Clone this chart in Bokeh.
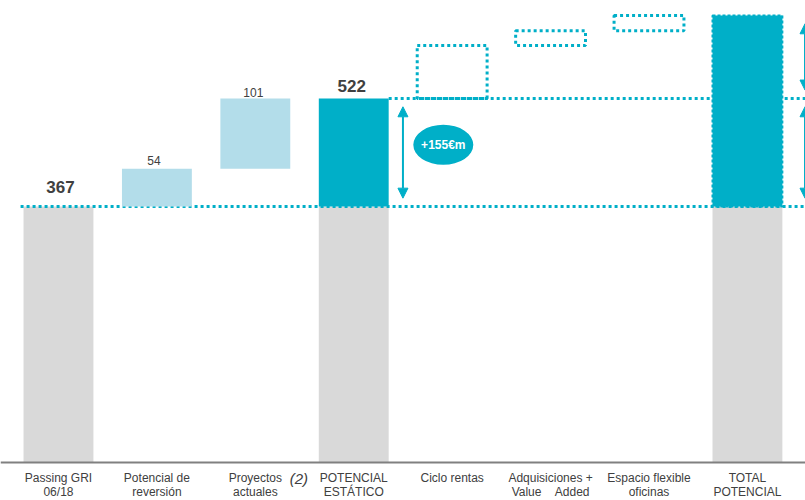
from bokeh.plotting import figure
from bokeh.models import Range1d, Span, Arrow, NormalHead
from bokeh.core.properties import value
from bokeh.embed import file_html
from bokeh.resources import INLINE

# ---- data ----
categories = ["Passing GRI\n06/18", "Potencial de\nreversión", "Proyectos\nactuales",
              "POTENCIAL\nESTÁTICO", "Ciclo rentas", "Adquisiciones +\nValue\u00a0\u00a0\u00a0\u00a0Added",
              "Espacio flexible\noficinas", "TOTAL\nPOTENCIAL"]
passing_gri = 367
reversion = 54
proyectos = 101
ciclo_rentas = 76
adquisiciones = 21
espacio_flexible = 22

static_total = passing_gri + reversion + proyectos          # 522
uplift = static_total - passing_gri                         # 155
total_potencial = static_total + ciclo_rentas + adquisiciones + espacio_flexible

TEAL = "#00AFC8"
LIGHT = "#B3DDEA"
GRAY = "#D9D9D9"
TXT = "#404040"
FONT = "Liberation Sans"
BW = 0.71

idx = list(range(len(categories)))

p = figure(width=805, height=500, output_backend="svg", toolbar_location=None,
           x_range=Range1d(-0.589, 7.59), y_range=Range1d(-54.5, 662.4),
           min_border=0, outline_line_color=None)
p.axis.visible = False
p.grid.visible = False
p.background_fill_color = "white"

# gray base bars
gray_x = [0, 3, 7]
p.vbar(x=gray_x, width=BW, bottom=0, top=[passing_gri] * 3, fill_color=GRAY, line_color=None)

# dotted reference lines
xe = 7.7
p.segment(x0=[0 - BW / 2 - 0.03], y0=[passing_gri], x1=[xe], y1=[passing_gri],
          line_color=TEAL, line_width=3, line_dash="3 3")
p.segment(x0=[3 + BW / 2], y0=[static_total], x1=[xe], y1=[static_total],
          line_color=TEAL, line_width=3, line_dash="3 3")

# light blue steps
lb_bottom = [passing_gri, passing_gri + reversion]
lb_top = [passing_gri + reversion, static_total]
p.vbar(x=[1, 2], width=BW, bottom=lb_bottom, top=lb_top, fill_color=LIGHT, line_color=None)

# static teal
p.vbar(x=[3], width=BW, bottom=[passing_gri], top=[static_total], fill_color=TEAL, line_color=None)

# dotted potential boxes
d_bottom = [static_total, static_total + ciclo_rentas, static_total + ciclo_rentas + adquisiciones]
d_top = [static_total + ciclo_rentas, static_total + ciclo_rentas + adquisiciones, total_potencial]
p.vbar(x=[4, 5, 6], width=BW, bottom=d_bottom, top=d_top, fill_color=None,
       line_color=TEAL, line_width=3, line_dash="3 3")

# total
p.vbar(x=[7], width=BW, bottom=[passing_gri], top=[total_potencial], fill_color=TEAL,
       line_color=TEAL, line_width=2, line_dash="3 2")

# baseline
p.add_layout(Span(location=0, dimension="width", line_color="#808080", line_width=2))

# arrows
pad = 12
def arrow(x, y0, y1):
    p.add_layout(Arrow(x_start=x, y_start=y0, x_end=x, y_end=y1,
                       start=NormalHead(size=10, fill_color=TEAL, line_color=TEAL),
                       end=NormalHead(size=10, fill_color=TEAL, line_color=TEAL),
                       line_color=TEAL, line_width=2))
arrow(3.5, passing_gri + pad, static_total - pad)
arrow(7.585, passing_gri + pad, static_total - pad)
arrow(7.585, static_total + pad, total_potencial - pad)

# ellipse with uplift
ey = (passing_gri + static_total) / 2 + 11
p.ellipse(x=[3.91], y=[ey], width=60, height=40, width_units="screen", height_units="screen",
          fill_color=TEAL, line_color=None)
p.text(x=[3.91], y=[ey], text=[f"+{uplift}€m"], text_color="white", text_font=value(FONT),
       text_font_style="bold", text_font_size="12px", text_align="center", text_baseline="middle")

# value labels
p.text(x=[0.02, 2.98], y=[passing_gri, static_total], text=[str(passing_gri), str(static_total)],
       text_color=TXT, text_font=value(FONT), text_font_style="bold", text_font_size="17px",
       text_align="center", text_baseline="bottom", y_offset=[-14, -6])
p.text(x=[0.97, 1.98], y=[passing_gri + reversion, static_total], text=[str(reversion), str(proyectos)],
       text_color=TXT, text_font=value(FONT), text_font_size="12px",
       text_align="center", text_baseline="bottom", y_offset=[-4, -1])

# category labels
cat_x = list(idx)
cat_text = list(categories)
p.text(x=cat_x, y=[0] * len(cat_x), text=cat_text, text_color=TXT, text_font=value(FONT),
       text_font_size="12px", text_align="center", text_baseline="top", y_offset=9,
       text_line_height=1.0)
p.text(x=[2.35], y=[0], text=["(2)"], text_color=TXT, text_font=value(FONT),
       text_font_style="italic", text_font_size="15px", text_align="left", text_baseline="top",
       y_offset=8)

open("out.html", "w").write(file_html(p, INLINE))
